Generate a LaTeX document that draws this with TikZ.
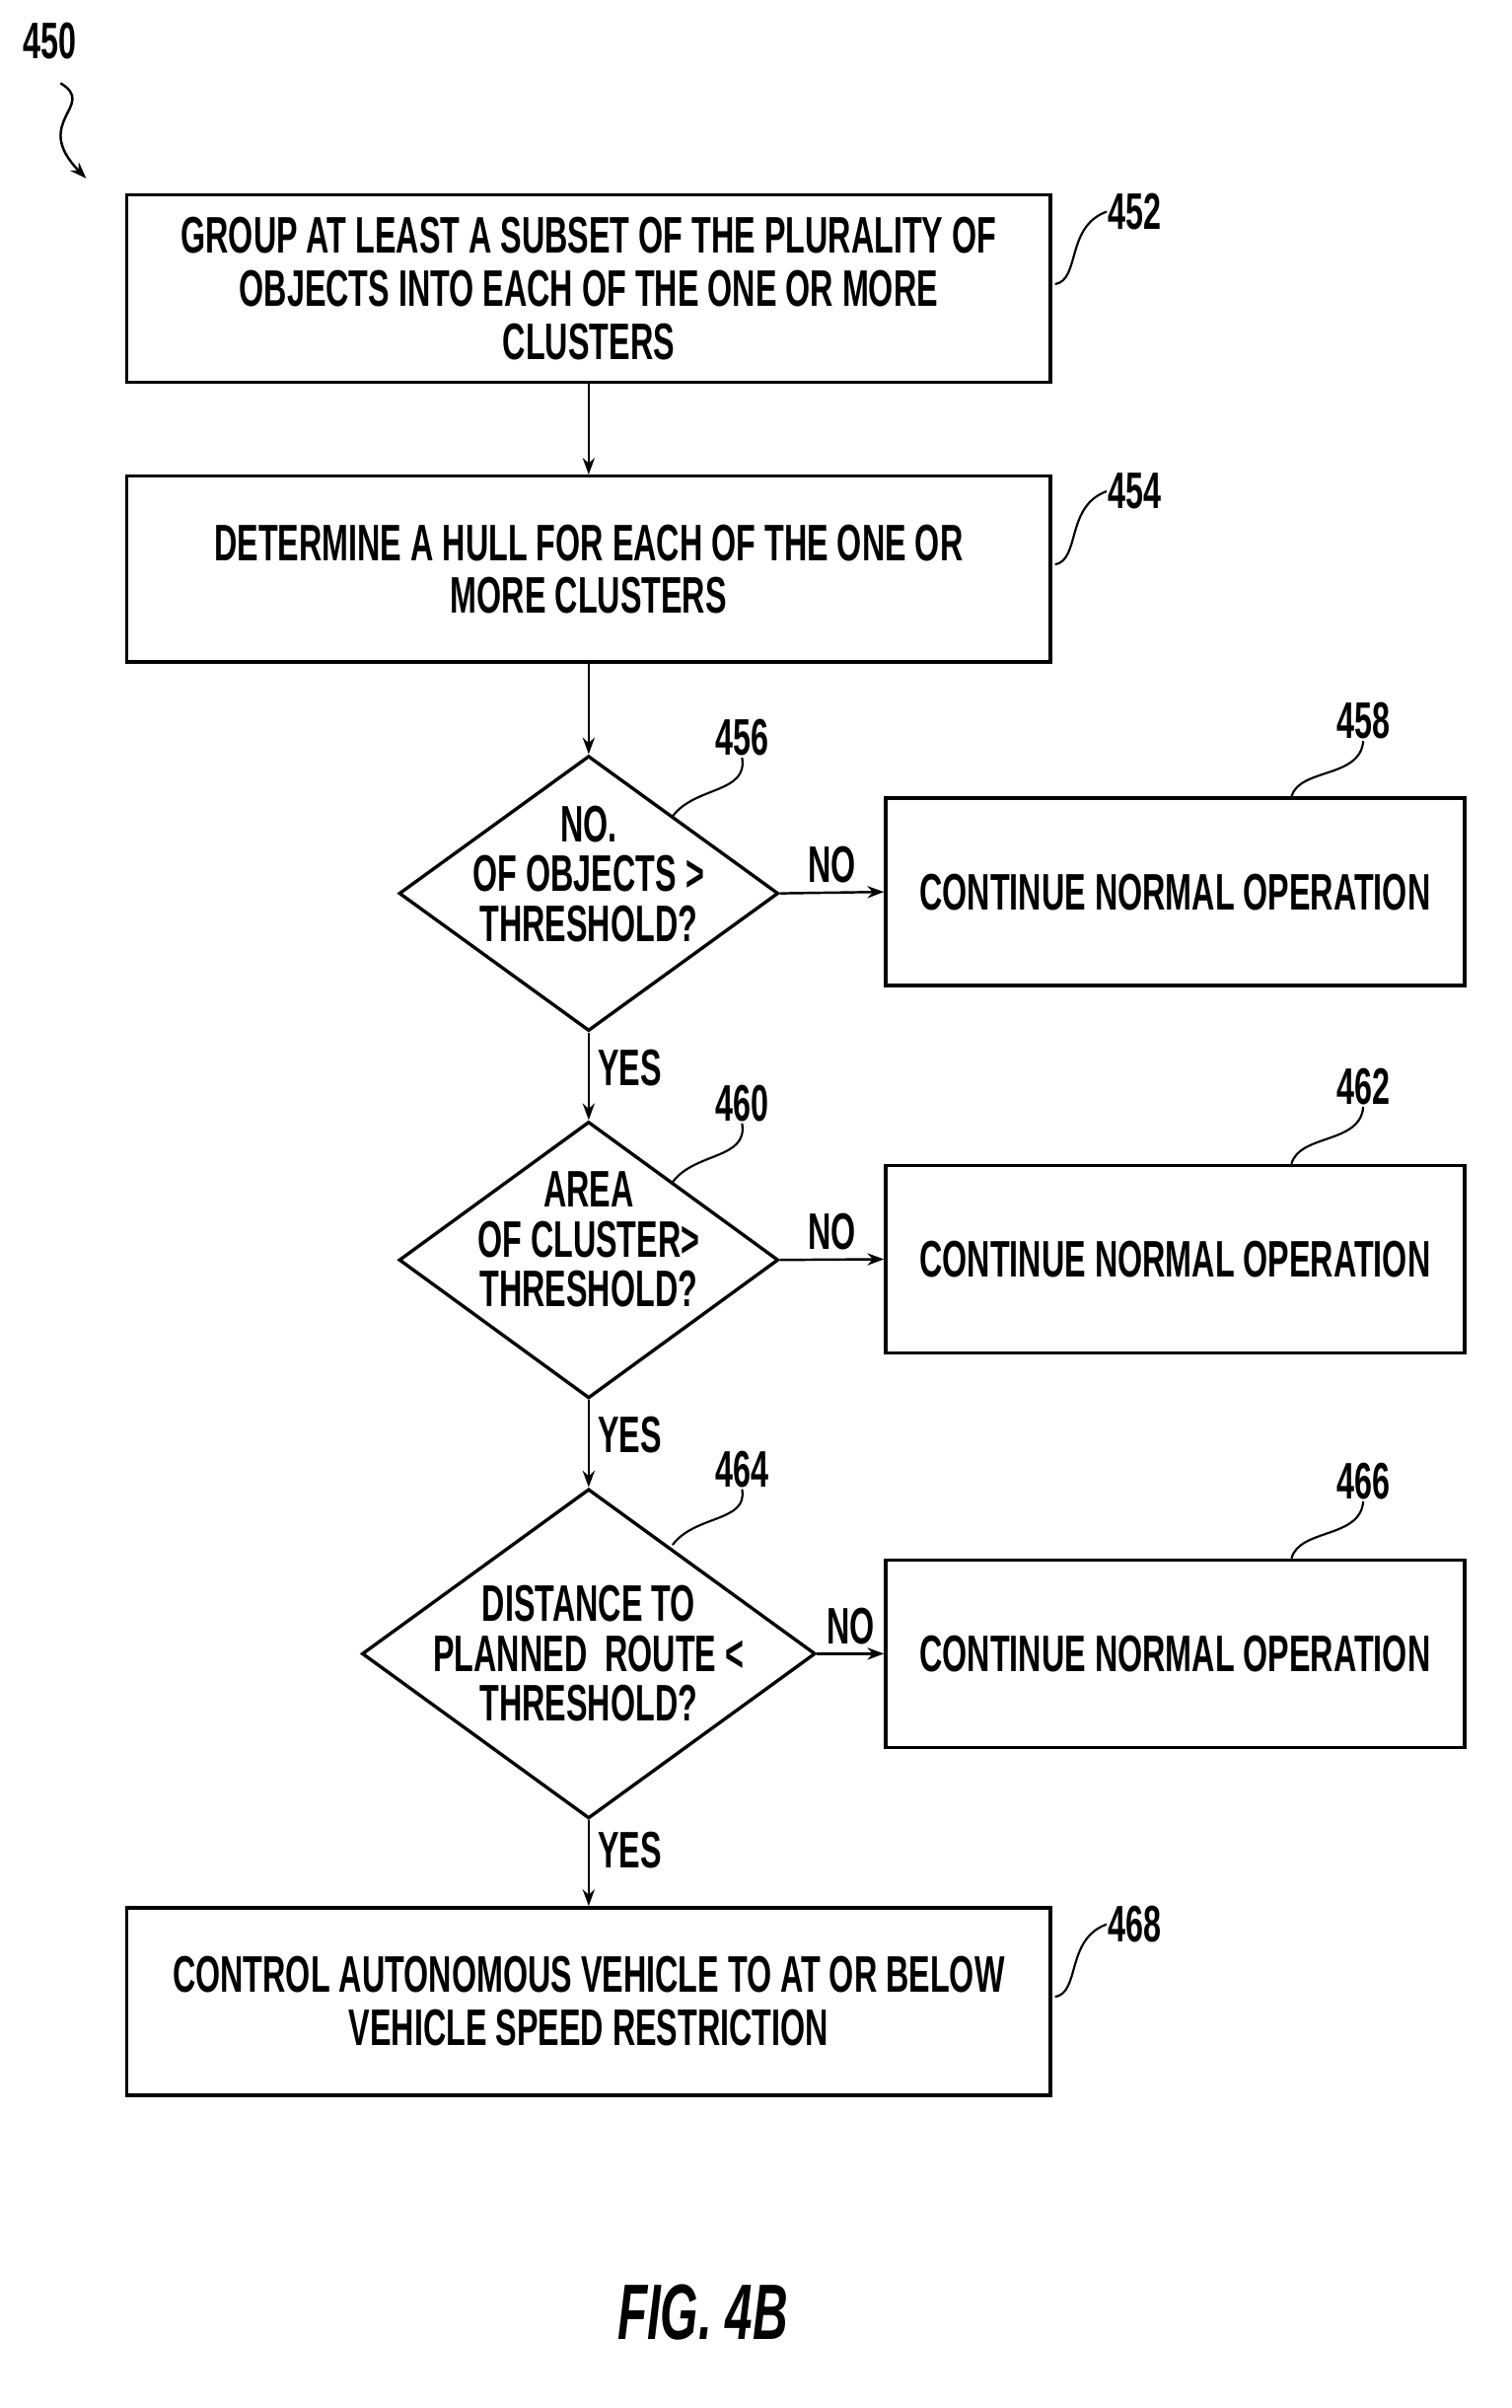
\documentclass[tikz,border=0pt]{standalone}
\usepackage{fontspec}
\setmainfont{Liberation Sans}[FakeStretch=0.62]
\usetikzlibrary{shapes.geometric,arrows.meta}
\begin{document}
\begin{tikzpicture}[x=1pt,y=-1pt,
  every node/.style={font=\fontsize{34}{35}\selectfont\bfseries,align=center},
  box/.style={draw,line width=2.2pt,align=center,inner sep=0},
  dia/.style={draw,line width=2.2pt,diamond,align=center,inner sep=0},
  lab/.style={inner sep=1pt},
  arr/.style={line width=1.6pt,-{Stealth[length=11pt,width=8pt]}},
  lead/.style={line width=1.4pt}]
\useasboundingbox (0,0) rectangle (1000,1593);
\node[lab] (l450) at (33,27) {450};
\coordinate (s1) at (40,55);
\coordinate (s2) at (57,118);
\draw[arr] (s1) .. controls (65,70) and (20,80) .. (s2);

\node[box,minimum width=611,minimum height=124] (b452) at (389.5,191) {GROUP AT LEAST A SUBSET OF THE PLURALITY OF\\OBJECTS INTO EACH OF THE ONE OR MORE\\CLUSTERS};
\node[box,minimum width=611,minimum height=123] (b454) at (389.5,376.5) {DETERMINE A HULL FOR EACH OF THE ONE OR\\MORE CLUSTERS};
\node[dia,minimum width=251,minimum height=182] (d456) at (389.5,591) {};
\node (t456) at (389.5,578) {NO.\\[-2pt]OF OBJECTS >\\[-2pt]THRESHOLD?};
\node[box,minimum width=383,minimum height=124] (b458) at (777.5,590) {CONTINUE NORMAL OPERATION};
\node[dia,minimum width=251,minimum height=183] (d460) at (389.5,833.5) {};
\node (t460) at (389.5,820) {AREA\\[-2pt]OF CLUSTER>\\[-2pt]THRESHOLD?};
\node[box,minimum width=383,minimum height=124] (b462) at (777.5,833) {CONTINUE NORMAL OPERATION};
\node[dia,minimum width=300,minimum height=218] (d464) at (389.5,1094) {};
\node (t464) at (389.5,1094) {DISTANCE TO\\[-2pt]PLANNED\ \ ROUTE <\\[-2pt]THRESHOLD?};
\node[box,minimum width=383,minimum height=124] (b466) at (777.5,1094) {CONTINUE NORMAL OPERATION};
\node[box,minimum width=611,minimum height=124] (b468) at (389.5,1324) {CONTROL AUTONOMOUS VEHICLE TO AT OR BELOW\\VEHICLE SPEED RESTRICTION};

\draw[arr] (b452.south) -- (b454.north);
\draw[arr] (b454.south) -- (d456.north);
\draw[arr] (d456.south) -- node[right,pos=0.4,xshift=2pt]{YES} (d460.north);
\draw[arr] (d460.south) -- node[right,pos=0.4,xshift=2pt]{YES} (d464.north);
\draw[arr] (d464.south) -- node[right,pos=0.35,xshift=2pt]{YES} (b468.north);
\draw[arr] (d456.east) -- node[above,yshift=2pt]{NO} (b458.west);
\draw[arr] (d460.east) -- node[above,yshift=2pt]{NO} (b462.west);
\draw[arr] (d464.east) -- node[above,yshift=2pt]{NO} (b466.west);

\node[lab] (l452) at (751,140) {452};
\draw[lead] (b452.east) ++(2,-3) .. controls (715,185) and (705,150) .. (l452.west);
\node[lab] (l454) at (751,325) {454};
\draw[lead] (b454.east) ++(2,-3) .. controls (715,370) and (705,335) .. (l454.west);
\node[lab] (l468) at (751,1273) {468};
\draw[lead] (b468.east) ++(2,-3) .. controls (715,1318) and (705,1283) .. (l468.west);
\node[lab] (l456) at (491,488) {456};
\coordinate (c456) at (445,540);
\draw[lead] (c456) .. controls (460,520) and (495,525) .. (l456.south);
\node[lab] (l460) at (491,730) {460};
\coordinate (c460) at (445,782);
\draw[lead] (c460) .. controls (460,762) and (495,767) .. (l460.south);
\node[lab] (l464) at (491,972) {464};
\coordinate (c464) at (445,1022);
\draw[lead] (c464) .. controls (460,1002) and (495,1007) .. (l464.south);
\node[lab] (l458) at (902,477) {458};
\draw[lead] (b458.north) ++(77,0) .. controls (860,508) and (900,515) .. (l458.south);
\node[lab] (l462) at (902,719) {462};
\draw[lead] (b462.north) ++(77,0) .. controls (860,750) and (900,757) .. (l462.south);
\node[lab] (l466) at (902,980) {466};
\draw[lead] (b466.north) ++(77,0) .. controls (860,1011) and (900,1018) .. (l466.south);
\node[font=\fontsize{52}{52}\selectfont\bfseries\itshape] (fig) at (465,1530) {FIG. 4B};
\end{tikzpicture}
\end{document}
